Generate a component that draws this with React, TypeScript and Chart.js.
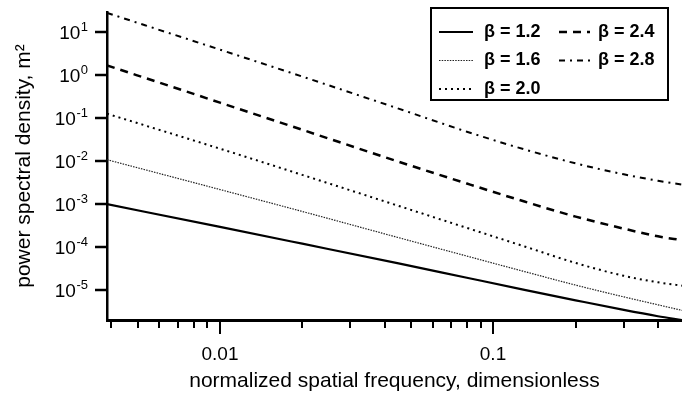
import React, { useEffect, useRef } from 'react';
import { Chart, registerables } from 'chart.js';

Chart.register(...registerables);

// Normalized spatial frequency (dimensionless)
const frequencies = [0.00386, 0.01, 0.02, 0.045, 0.08, 0.13, 0.2, 0.3, 0.4, 0.49];

// Power spectral density (m^2) for each spectral exponent beta
const psdBeta12 = [1.0e-3, 2.95e-4, 1.2e-4, 4.17e-5, 1.93e-5, 1.01e-5, 5.75e-6, 3.43e-6, 2.45e-6, 2.0e-6];
const psdBeta16 = [0.01086, 0.00219, 6.76e-4, 1.66e-4, 6.17e-5, 2.69e-5, 1.3e-5, 6.92e-6, 4.52e-6, 3.35e-6];
const psdBeta20 = [0.128, 0.0196, 0.00481, 9.12e-4, 2.8e-4, 1.035e-4, 4.27e-5, 2.14e-5, 1.51e-5, 1.26e-5];
const psdBeta24 = [1.71, 0.232, 0.054, 0.00977, 0.00302, 0.00115, 5.13e-4, 2.69e-4, 1.78e-4, 1.45e-4];
const psdBeta28 = [28.6, 3.98, 0.94, 0.168, 0.0488, 0.0189, 0.00891, 0.00495, 0.00351, 0.00286];

const seriesLabels = ['β = 1.2', 'β = 1.6', 'β = 2.0', 'β = 2.4', 'β = 2.8'];

// Axis ticks
const xMajorTicks = [0.01, 0.1];
const xMajorLabels = ['0.01', '0.1'];
const xMinorTicks = [0.004, 0.005, 0.006, 0.007, 0.008, 0.009, 0.02, 0.03, 0.04, 0.05, 0.06, 0.07, 0.08, 0.09, 0.2, 0.3, 0.4];
const yTicks = [10, 1, 0.1, 0.01, 0.001, 0.0001, 0.00001];
const yTickExponents = ['1', '0', '-1', '-2', '-3', '-4', '-5'];

const FONT = '"Liberation Sans", Arial, Helvetica, sans-serif';

const decorPlugin = {
  id: 'decor',
  afterDraw(chart: any) {
    const ctx = chart.ctx as CanvasRenderingContext2D;
    const xs = chart.scales.x;
    const ys = chart.scales.y;
    const area = chart.chartArea;
    ctx.save();
    ctx.strokeStyle = '#000';
    ctx.fillStyle = '#000';
    ctx.lineCap = 'butt';

    // x ticks
    const yb = area.bottom;
    ctx.lineWidth = 2;
    xMinorTicks.forEach((v) => {
      const px = Math.round(xs.getPixelForValue(v));
      ctx.beginPath();
      ctx.moveTo(px, yb);
      ctx.lineTo(px, yb + 8);
      ctx.stroke();
    });
    ctx.font = `19px ${FONT}`;
    ctx.textAlign = 'center';
    ctx.textBaseline = 'alphabetic';
    xMajorTicks.forEach((v, i) => {
      const px = Math.round(xs.getPixelForValue(v));
      ctx.beginPath();
      ctx.moveTo(px, yb);
      ctx.lineTo(px, yb + 14);
      ctx.stroke();
      ctx.fillText(xMajorLabels[i], px, 360);
    });

    // y ticks
    const xl = area.left;
    ctx.lineWidth = 2.5;
    yTicks.forEach((v, i) => {
      const py = Math.round(ys.getPixelForValue(v));
      ctx.beginPath();
      ctx.moveTo(xl - 12, py);
      ctx.lineTo(xl, py);
      ctx.stroke();
      const exp = yTickExponents[i];
      ctx.textAlign = 'right';
      ctx.textBaseline = 'alphabetic';
      ctx.font = `13px ${FONT}`;
      const ew = ctx.measureText(exp).width;
      ctx.fillText(exp, 88, py - 1);
      ctx.font = `19px ${FONT}`;
      ctx.fillText('10', 88 - ew - 0.5, py + 6.5);
    });

    // legend
    const bx = 431, by = 8, bw = 237, bh = 92;
    ctx.lineWidth = 2;
    ctx.strokeRect(bx, by, bw, bh);
    chart.data.datasets.forEach((ds: any, i: number) => {
      const col = i < 3 ? 0 : 1;
      const row = i < 3 ? i : i - 3;
      const cy = 31 + row * 28.5;
      const sx0 = col ? 559 : 439;
      const sx1 = col ? 590 : 473;
      const tx = col ? 598 : 484;
      ctx.save();
      ctx.lineWidth = ds.borderWidth;
      ctx.setLineDash(ds.borderDash || []);
      ctx.strokeStyle = ds.borderColor;
      ctx.beginPath();
      ctx.moveTo(sx0, cy + 1);
      ctx.lineTo(sx1, cy + 1);
      ctx.stroke();
      ctx.restore();
      ctx.font = `bold 18px ${FONT}`;
      ctx.textAlign = 'left';
      ctx.textBaseline = 'middle';
      ctx.fillText(ds.label, tx, cy + 1);
    });
    ctx.restore();
  },
};

export default function App() {
  const canvasRef = useRef<HTMLCanvasElement | null>(null);

  useEffect(() => {
    const canvas = canvasRef.current;
    if (!canvas) return;
    const seriesValues = [psdBeta12, psdBeta16, psdBeta20, psdBeta24, psdBeta28];
    const styles = [
      { borderWidth: 2.2, borderDash: [] as number[], borderColor: '#000' },
      { borderWidth: 1.2, borderDash: [1.5, 1.2], borderColor: '#222' },
      { borderWidth: 2, borderDash: [2, 4], borderColor: '#000' },
      { borderWidth: 2.5, borderDash: [8, 6], borderColor: '#000' },
      { borderWidth: 2, borderDash: [6, 5, 2, 5], borderColor: '#000' },
    ];
    const chart = new Chart(canvas, {
      type: 'line',
      data: {
        datasets: seriesValues.map((vals, i) => ({
          label: seriesLabels[i],
          data: frequencies.map((f, j) => ({ x: f, y: vals[j] })),
          borderColor: styles[i].borderColor,
          borderWidth: styles[i].borderWidth,
          borderDash: styles[i].borderDash,
          pointRadius: 0,
          fill: false,
          cubicInterpolationMode: 'monotone' as const,
        })),
      },
      options: {
        animation: false,
        responsive: false,
        maintainAspectRatio: false,
        devicePixelRatio: 1,
        layout: { padding: { top: 12, right: 0, bottom: 0, left: 0 } },
        plugins: {
          legend: { display: false },
          tooltip: { enabled: false },
        },
        scales: {
          x: {
            type: 'logarithmic',
            min: 0.00386,
            max: 0.49,
            grid: { display: false },
            ticks: { display: false },
            border: { display: true, color: '#000', width: 3 },
            title: {
              display: true,
              text: 'normalized spatial frequency, dimensionless',
              color: '#000',
              font: { family: FONT, size: 21 },
              padding: { top: 0, bottom: 2 },
            },
            afterFit: (s: any) => { s.height = 76; },
          },
          y: {
            type: 'logarithmic',
            min: 2e-6,
            max: 30,
            grid: { display: false },
            ticks: { display: false },
            border: { display: true, color: '#000', width: 2.5 },
            title: {
              display: true,
              text: 'power spectral density, m²',
              color: '#000',
              font: { family: FONT, size: 21 },
              padding: { top: 12, bottom: 0 },
            },
            afterFit: (s: any) => { s.width = 107; },
          },
        },
      },
      plugins: [decorPlugin],
    });
    return () => chart.destroy();
  }, []);

  return (
    <div style={{ position: 'fixed', left: 0, top: 0, width: 682, height: 396, background: '#fff' }}>
      <canvas ref={canvasRef} width={682} height={396} style={{ width: 682, height: 396, display: 'block' }} />
    </div>
  );
}
